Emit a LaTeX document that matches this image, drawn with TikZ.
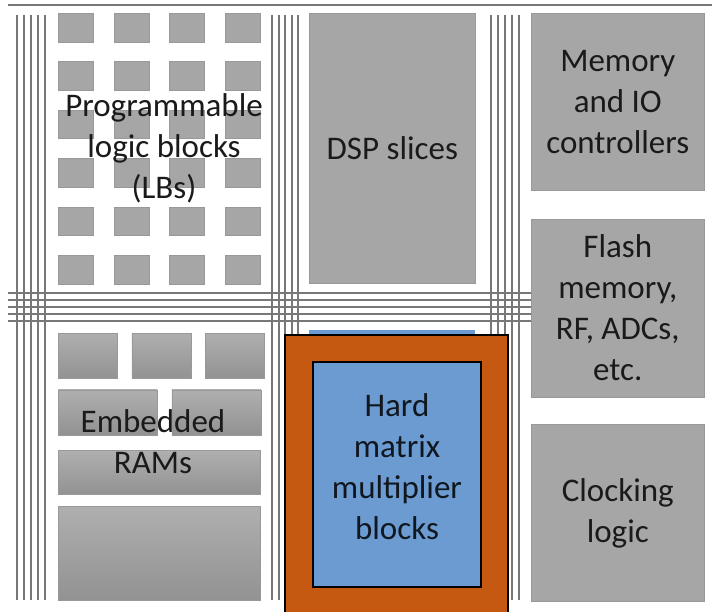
\documentclass[tikz,border=0pt]{standalone}
\usepackage{fontspec}
\setmainfont{Carlito}
\usetikzlibrary{positioning}
\definecolor{blockgray}{HTML}{A6A6A6}
\definecolor{wiregray}{HTML}{777777}
\definecolor{hmorange}{HTML}{C65911}
\definecolor{hmblue}{HTML}{6B9BD1}
\definecolor{txtgray}{HTML}{1A1A1A}

\begin{document}
\begin{tikzpicture}[x=1pt, y=-1pt,
  block/.style={fill=blockgray, draw=blockgray!92!black, line width=0.6pt, anchor=north west, inner sep=0pt, align=center, text=txtgray, font=\fontsize{33}{41}\selectfont},
  lb/.style={block, minimum width=35pt, minimum height=28.5pt},
  ram/.style={block, top color=blockgray!90!white, bottom color=blockgray!88!black, minimum height=45pt},
  wire/.style={draw=wiregray, line width=1.5pt},
  lbltext/.style={align=center, text=txtgray, inner sep=0pt, font=\fontsize{33}{41}\selectfont}]
    \path[use as bounding box, fill=white] (0,0) rectangle (712,611);

    \draw[wiregray, line width=2pt] (8,5) -- (712,5);
    \foreach \x in {17,24,31,38,45,272,279,285,292,298,491,498,505,512,519}
        \draw[wire] (\x,15) -- (\x,600);
    \foreach \y in {293,300,307,314,321}
        \draw[wire] (8,\y) -- (532,\y);

    \foreach \i in {0,...,3}
        \foreach \j in {0,...,5}
            \node[lb] (lb-\i-\j) at ({58+55.7*\i},{13+48.4*\j}) {};
    \node[lbltext] (lbtext) at (164,148) {Programmable\\logic blocks\\(LBs)};

    \node[ram, minimum width=59pt] (ram-a) at (58,333) {};
    \node[ram, minimum width=59pt, right=14pt of ram-a] (ram-b) {};
    \node[ram, minimum width=59pt, right=14pt of ram-b] (ram-c) {};
    \node[ram, minimum width=99pt, below=11pt of ram-a.south west, anchor=north west] (ram-d) {};
    \node[ram, minimum width=89pt, right=14pt of ram-d] (ram-e) {};
    \node[ram, minimum width=202pt, minimum height=44pt, below=15pt of ram-d.south west, anchor=north west] (ram-f) {};
    \node[ram, minimum width=202pt, minimum height=94pt, below=11pt of ram-f.south west, anchor=north west] (ram-g) {};
    \node[lbltext] (ramtext) at (153,442) {Embedded\\RAMs};

    \node[block, minimum width=166pt, minimum height=270pt] (dsp) at (309,13) {DSP slices};

    \node[block, minimum width=173pt, minimum height=177pt] (memio) at (531,13) {Memory\\and IO\\controllers};
    \node[block, minimum width=173pt, minimum height=178pt, below=28pt of memio] (flash) {Flash\\memory,\\RF, ADCs,\\etc.};
    \node[block, minimum width=173pt, minimum height=177pt, below=27pt of flash] (clock) {Clocking\\logic};

    \node[fill=hmblue, minimum width=166pt, minimum height=270pt, anchor=north west, inner sep=0pt] (hmback) at (309,330) {};
    \node[draw=black, line width=2pt, fill=hmorange, minimum width=223pt, minimum height=300pt, anchor=north west, inner sep=0pt] (hmframe) at (284,334) {};
    \node[draw=black, line width=2pt, fill=hmblue, minimum width=168pt, minimum height=225pt, anchor=north west, inner sep=0pt] (hmm) at (312,361) {};
    \node[lbltext, text=black!85!hmblue] (hmtext) at ([yshift=8pt]hmm.center) {Hard\\matrix\\multiplier\\blocks};

\end{tikzpicture}
\end{document}
